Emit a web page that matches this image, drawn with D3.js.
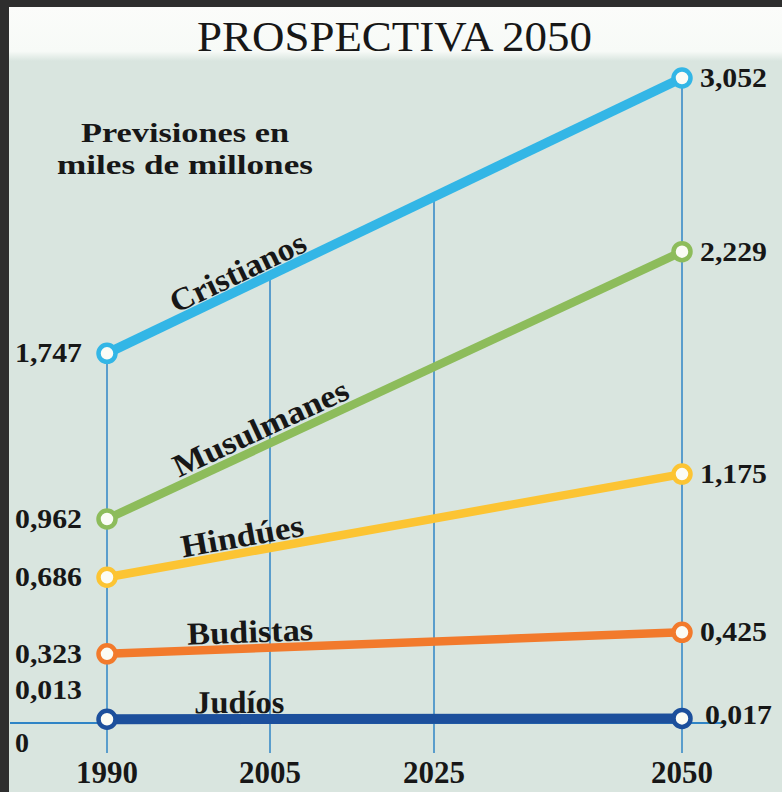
<!DOCTYPE html>
<html><head><meta charset="utf-8">
<script src="https://cdn.jsdelivr.net/npm/d3@7"></script>
<style>html,body{margin:0;padding:0;background:#2e2e2e;} svg{display:block}</style>
</head><body>
<svg id="c" width="782" height="792"></svg>
<script>
// ---------- data ----------
const years = [1990, 2005, 2025, 2050];
const yearLabels = ["1990", "2005", "2025", "2050"];
const series = ["Cristianos", "Musulmanes", "Hindúes", "Budistas", "Judíos"];
const values1990 = [1.747, 0.962, 0.686, 0.323, 0.013];
const values2050 = [3.052, 2.229, 1.175, 0.425, 0.017];
const labels1990 = ["1,747", "0,962", "0,686", "0,323", "0,013"];
const labels2050 = ["3,052", "2,229", "1,175", "0,425", "0,017"];
const zeroLabel = "0";
const title = "PROSPECTIVA 2050";
const subtitle = ["Previsiones en", "miles de millones"];

// ---------- styles ----------
const colors = ["#33b6e6", "#8dbc5b", "#fcc433", "#f27a2c", "#1c4f9c"];
const lineWidths = [9.5, 8.5, 8.5, 8.5, 10];
const labelT = [0.24, 0.28, 0.24, 0.25, 0.23];       // position along line
const labelOff = [6, 7, 6, 6, 6];                  // distance above line
const labelLen = [147, 190, 124, 126, 90];
const gridColor = "#2f84c6";
const ink = "#171717";
const FONT = "'Liberation Serif', 'Times New Roman', serif";

const svg = d3.select("#c");
const W = 782, H = 792;

// page background
svg.append("rect").attr("x", 9).attr("y", 7).attr("width", W - 9).attr("height", H - 7).attr("fill", "#d9e5df");
const defs = svg.append("defs");
const g = defs.append("linearGradient").attr("id", "top").attr("x1", 0).attr("x2", 0).attr("y1", 0).attr("y2", 1);
g.append("stop").attr("offset", "0").attr("stop-color", "#fbfcfa");
g.append("stop").attr("offset", "0.82").attr("stop-color", "#f7faf7");
g.append("stop").attr("offset", "1").attr("stop-color", "#d9e5df");
svg.append("rect").attr("x", 9).attr("y", 7).attr("width", W - 9).attr("height", 54).attr("fill", "url(#top)");

// scales
const x = d3.scaleLinear().domain(years).range([107, 270, 434, 682]);
const y = d3.scaleLinear().domain([0, values2050[0]]).range([722, 78]);

const lineY = (i, xx) => {
  const x0 = x(years[0]), x1 = x(years[3]);
  return y(values1990[i]) + (xx - x0) / (x1 - x0) * (y(values2050[i]) - y(values1990[i]));
};

// gridlines
const bottom = 753;
years.forEach((yr, k) => {
  let top;
  if (k === 0) top = y(values1990[0]);
  else if (k === years.length - 1) top = y(values2050[0]);
  else top = lineY(0, x(yr));
  svg.append("line").attr("x1", x(yr)).attr("x2", x(yr)).attr("y1", top).attr("y2", bottom)
    .attr("stroke", gridColor).attr("stroke-width", 1.5);
});
// zero axis
svg.append("line").attr("x1", 10).attr("x2", 725).attr("y1", y(0) + 1).attr("y2", y(0) + 1)
  .attr("stroke", gridColor).attr("stroke-width", 2);

// series lines
const data = series.map((s, i) => ({ s, i, pts: [[years[0], values1990[i]], [years[3], values2050[i]]] }));
const line = d3.line().x(d => x(d[0])).y(d => y(d[1]));
svg.selectAll("path.series").data(data).join("path").attr("class", "series")
  .attr("d", d => line(d.pts)).attr("fill", "none")
  .attr("stroke", d => colors[d.i]).attr("stroke-width", d => lineWidths[d.i]);

// markers
data.forEach(d => {
  d.pts.forEach(p => {
    svg.append("circle").attr("cx", x(p[0])).attr("cy", y(p[1])).attr("r", 8.5)
      .attr("fill", "#fbfcf6").attr("stroke", colors[d.i]).attr("stroke-width", 4.5);
  });
});

// title
svg.append("text").attr("x", 394.5).attr("y", 51).attr("text-anchor", "middle")
  .attr("font-family", FONT).attr("font-size", 42).attr("fill", ink)
  .attr("textLength", 395).attr("lengthAdjust", "spacingAndGlyphs").text(title);

// subtitle
const subLen = [208, 256];
subtitle.forEach((t, k) => {
  svg.append("text").attr("x", 185).attr("y", 142 + k * 32).attr("text-anchor", "middle")
    .attr("font-family", FONT).attr("font-weight", "bold").attr("font-size", 27).attr("fill", ink)
    .attr("textLength", subLen[k]).attr("lengthAdjust", "spacingAndGlyphs").text(t);
});

// value labels
const valText = (tx, ty, str, anchor, len) =>
  svg.append("text").attr("x", tx).attr("y", ty).attr("text-anchor", anchor)
    .attr("font-family", FONT).attr("font-weight", "bold").attr("font-size", 28).attr("fill", ink)
    .attr("textLength", len).attr("lengthAdjust", "spacingAndGlyphs").text(str);

labels1990.forEach((l, i) => {
  const ty = i === labels1990.length - 1 ? 699 : y(values1990[i]) + 9;
  valText(82, ty, l, "end", 67);
});
valText(15, 752, zeroLabel, "start", 14);
labels2050.forEach((l, i) => {
  const last = i === labels2050.length - 1;
  valText(last ? 705 : 700, y(values2050[i]) + 9 - (last ? 3 : 0), l, "start", 67);
});

// year labels
years.forEach((yr, k) => {
  svg.append("text").attr("x", x(yr)).attr("y", 783).attr("text-anchor", "middle")
    .attr("font-family", FONT).attr("font-weight", "bold").attr("font-size", 31).attr("fill", ink)
    .attr("textLength", 62).attr("lengthAdjust", "spacingAndGlyphs").text(yearLabels[k]);
});

// series labels along lines
data.forEach(d => {
  const i = d.i;
  const x0 = x(years[0]), x1 = x(years[3]);
  const y0 = y(values1990[i]), y1 = y(values2050[i]);
  const ang = Math.atan2(y1 - y0, x1 - x0);
  const px = x0 + labelT[i] * (x1 - x0);
  const py = y0 + labelT[i] * (y1 - y0);
  const ox = px + Math.sin(ang) * labelOff[i];
  const oy = py - Math.cos(ang) * labelOff[i];
  svg.append("text").attr("transform", `translate(${ox},${oy}) rotate(${ang * 180 / Math.PI})`)
    .attr("text-anchor", "middle").attr("font-family", FONT).attr("font-weight", "bold")
    .attr("font-size", 32).attr("fill", ink)
    .attr("textLength", labelLen[i]).attr("lengthAdjust", "spacingAndGlyphs").text(d.s);
});
</script>
</body></html>
